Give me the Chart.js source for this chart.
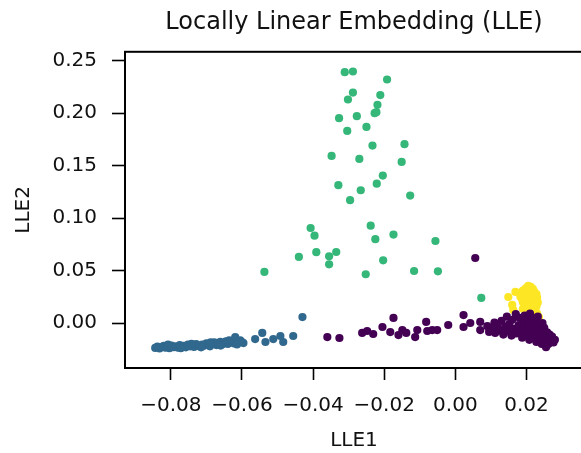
<!DOCTYPE html>
<html>
<head>
<meta charset="utf-8">
<script src="https://cdn.jsdelivr.net/npm/chart.js@4.4.0/dist/chart.umd.min.js"></script>
<style>
  html, body { margin: 0; padding: 0; background: #fff; overflow: hidden; }
</style>
</head>
<body>
<canvas id="chart" width="600" height="453"></canvas>
<script>
// ==========================
// Data
// ==========================
const classLabels = ['0', '1', '2', '3'];
const classColors = ['#440154', '#31688e', '#35b779', '#fde725'];

// class 0 - purple band along the bottom right
const purplePts = [
  [0.0056, 0.0620],
  [-0.0360, -0.0134], [-0.0326, -0.0143], [-0.0262, -0.0095], [-0.0248, -0.0076],
  [-0.0231, -0.0105], [-0.0205, -0.0038], [-0.0174, 0.0048], [-0.0183, -0.0086],
  [-0.0160, -0.0115], [-0.0149, -0.0067], [-0.0138, -0.0095], [-0.0113, -0.0134],
  [-0.0107, -0.0067], [-0.0082, 0.0010], [-0.0079, -0.0076], [-0.0065, -0.0067],
  [-0.0051, -0.0067], [-0.0020, -0.0019], [0.0023, 0.0076], [0.0023, -0.0038],
  [0.0042, 0.0000], [0.0070, 0.0010], [0.0070, -0.0067],
  [0.0090, -0.0030], [0.0095, -0.0085], [0.0102, -0.0050], [0.0110, 0.0005],
  [0.0112, -0.0095], [0.0118, -0.0040], [0.0125, -0.0070], [0.0130, 0.0020],
  [0.0135, -0.0110], [0.0140, -0.0035], [0.0145, 0.0060], [0.0148, -0.0080],
  [0.0152, -0.0010], [0.0158, -0.0120], [0.0160, 0.0030], [0.0165, -0.0055],
  [0.0170, 0.0085], [0.0172, -0.0100], [0.0178, -0.0020], [0.0180, 0.0050],
  [0.0185, -0.0075], [0.0188, -0.0140], [0.0192, 0.0010], [0.0195, 0.0070],
  [0.0198, -0.0045], [0.0202, -0.0110], [0.0205, 0.0030], [0.0208, -0.0160],
  [0.0210, 0.0090], [0.0213, -0.0020], [0.0215, -0.0085], [0.0218, 0.0045],
  [0.0220, -0.0130], [0.0222, -0.0050], [0.0225, 0.0015], [0.0228, -0.0180],
  [0.0230, -0.0100], [0.0232, 0.0060], [0.0235, -0.0030], [0.0238, -0.0150],
  [0.0240, -0.0070], [0.0243, -0.0200], [0.0245, 0.0000], [0.0248, -0.0120],
  [0.0250, -0.0045], [0.0253, -0.0170], [0.0255, -0.0230], [0.0258, -0.0090],
  [0.0260, -0.0140], [0.0262, -0.0200], [0.0265, -0.0110], [0.0268, -0.0165],
  [0.0272, -0.0130], [0.0276, -0.0185], [0.0280, -0.0160]
];

// class 1 - blue band on the left
const bluePts = [
  [-0.0844, -0.0238], [-0.0838, -0.0225], [-0.0832, -0.0242], [-0.0826, -0.0230],
  [-0.0820, -0.0218], [-0.0815, -0.0236], [-0.0810, -0.0225], [-0.0804, -0.0240],
  [-0.0798, -0.0215], [-0.0792, -0.0230], [-0.0786, -0.0222], [-0.0780, -0.0236],
  [-0.0775, -0.0210], [-0.0770, -0.0226], [-0.0764, -0.0218], [-0.0758, -0.0232],
  [-0.0752, -0.0205], [-0.0746, -0.0222], [-0.0740, -0.0212], [-0.0735, -0.0228],
  [-0.0729, -0.0200], [-0.0724, -0.0215], [-0.0718, -0.0225], [-0.0712, -0.0205],
  [-0.0707, -0.0218], [-0.0700, -0.0195], [-0.0695, -0.0212], [-0.0690, -0.0222],
  [-0.0684, -0.0200], [-0.0678, -0.0185], [-0.0672, -0.0210], [-0.0667, -0.0196],
  [-0.0661, -0.0180], [-0.0656, -0.0205], [-0.0650, -0.0190], [-0.0645, -0.0175],
  [-0.0640, -0.0200], [-0.0634, -0.0186], [-0.0628, -0.0170], [-0.0622, -0.0195],
  [-0.0617, -0.0178], [-0.0611, -0.0188], [-0.0605, -0.0165], [-0.0600, -0.0182],
  [-0.0808, -0.0205], [-0.0772, -0.0240], [-0.0742, -0.0198], [-0.0715, -0.0232],
  [-0.0688, -0.0185], [-0.0660, -0.0215], [-0.0636, -0.0165], [-0.0614, -0.0205],
  [-0.0619, -0.0134], [-0.0596, -0.0191], [-0.0563, -0.0153], [-0.0543, -0.0095],
  [-0.0534, -0.0181], [-0.0512, -0.0153], [-0.0492, -0.0124], [-0.0484, -0.0181],
  [-0.0456, -0.0124], [-0.0430, 0.0057]
];

// class 2 - green spread upwards
const greenPts = [
  [-0.0311, 0.2392], [-0.0288, 0.2398], [-0.0192, 0.2322], [-0.0288, 0.2197],
  [-0.0302, 0.2131], [-0.0211, 0.2173], [-0.0219, 0.2080], [-0.0227, 0.2001],
  [-0.0222, 0.2010], [-0.0327, 0.1953], [-0.0277, 0.1972], [-0.0250, 0.1870],
  [-0.0304, 0.1832], [-0.0233, 0.1692], [-0.0143, 0.1705], [-0.0348, 0.1593],
  [-0.0270, 0.1565], [-0.0151, 0.1536], [-0.0204, 0.1406], [-0.0221, 0.1329],
  [-0.0329, 0.1314], [-0.0266, 0.1266], [-0.0296, 0.1171], [-0.0127, 0.1215],
  [-0.0407, 0.0906], [-0.0396, 0.0833], [-0.0238, 0.0928], [-0.0225, 0.0799],
  [-0.0174, 0.0843], [-0.0056, 0.0782], [-0.0440, 0.0630], [-0.0391, 0.0675],
  [-0.0355, 0.0636], [-0.0335, 0.0677], [-0.0355, 0.0560], [-0.0203, 0.0598],
  [-0.0252, 0.0465], [-0.0116, 0.0496], [-0.0049, 0.0493], [-0.0537, 0.0487],
  [0.0073, 0.0239]
];

// class 3 - yellow clump at the right
const yellowPts = [
  [0.0149, 0.0248], [0.0169, 0.0296], [0.0163, 0.0124], [0.0160, 0.0172],
  [0.0205, 0.0355], [0.0212, 0.0345], [0.0198, 0.0330], [0.0218, 0.0325],
  [0.0190, 0.0310], [0.0205, 0.0312], [0.0222, 0.0300], [0.0185, 0.0290],
  [0.0200, 0.0288], [0.0215, 0.0282], [0.0228, 0.0275], [0.0192, 0.0265],
  [0.0208, 0.0262], [0.0220, 0.0255], [0.0183, 0.0250], [0.0198, 0.0242],
  [0.0230, 0.0240], [0.0212, 0.0232], [0.0188, 0.0225], [0.0225, 0.0220],
  [0.0202, 0.0215], [0.0215, 0.0205], [0.0190, 0.0198], [0.0232, 0.0195],
  [0.0205, 0.0188], [0.0220, 0.0180], [0.0195, 0.0172], [0.0210, 0.0165],
  [0.0228, 0.0160], [0.0200, 0.0150], [0.0218, 0.0142], [0.0190, 0.0135],
  [0.0225, 0.0128], [0.0208, 0.0120], [0.0198, 0.0105], [0.0215, 0.0098],
  [0.0230, 0.0090], [0.0205, 0.0080], [0.0220, 0.0065], [0.0235, 0.0055],
  [0.0212, 0.0045], [0.0228, 0.0020]
];

const xRange = [-0.0929, 0.0359];
const yRange = [-0.0429, 0.2586];
const xStep = 0.02;
const yStep = 0.05;

// ==========================
// Helpers
// ==========================
const FONT = 'DejaVu Sans';
const fmtTick = v => {
  const s = Math.abs(v).toFixed(2);
  return (v < -1e-9 ? '\u2212' : '') + s;
};
const toXY = pts => pts.map(p => ({ x: p[0], y: p[1] }));

// frame on top and right (matplotlib spines)
const frame = {
  id: 'frame',
  afterDraw(chart) {
    const { ctx, chartArea: a } = chart;
    ctx.save();
    ctx.strokeStyle = '#000';
    ctx.lineWidth = 2;
    ctx.strokeRect(a.left, a.top, a.right - a.left, a.bottom - a.top);
    ctx.restore();
  }
};

// purple first so it sits on top (chart.js draws dataset 0 last)
const seriesPts = [purplePts, bluePts, greenPts, yellowPts];

const ctx = document.getElementById('chart').getContext('2d');
new Chart(ctx, {
  type: 'scatter',
  data: {
    datasets: seriesPts.map((pts, i) => ({
      label: classLabels[i],
      data: toXY(pts),
      backgroundColor: classColors[i],
      borderWidth: 0,
      pointRadius: 4.1,
      pointHoverRadius: 4.1
    }))
  },
  options: {
    responsive: false,
    animation: false,
    layout: { padding: { left: 0, right: 17, top: 0, bottom: 0 } },
    plugins: {
      legend: { display: false },
      tooltip: { enabled: false },
      title: {
        display: true,
        text: 'Locally Linear Embedding (LLE)',
        fullSize: false,
        color: '#111',
        font: { family: FONT, size: 24, weight: 'normal' },
        padding: { top: 8, bottom: 15 }
      }
    },
    scales: {
      x: {
        type: 'linear',
        min: xRange[0],
        max: xRange[1],
        ticks: {
          stepSize: xStep,
          includeBounds: false,
          callback: fmtTick,
          color: '#111',
          font: { family: FONT, size: 20 },
          padding: 14,
          maxRotation: 0
        },
        grid: { drawOnChartArea: false, tickLength: 12, tickColor: '#000', tickWidth: 1.6 },
        border: { color: '#000', width: 2 },
        title: {
          display: true, text: 'LLE1', color: '#111',
          font: { family: FONT, size: 20 },
          padding: { top: 0, bottom: 0 }
        },
        afterFit: s => { s.height = 85; }
      },
      y: {
        type: 'linear',
        min: yRange[0],
        max: yRange[1],
        ticks: {
          stepSize: yStep,
          includeBounds: false,
          callback: fmtTick,
          color: '#111',
          font: { family: FONT, size: 20 },
          padding: 15
        },
        grid: { drawOnChartArea: false, tickLength: 13, tickColor: '#000', tickWidth: 1.6 },
        border: { color: '#000', width: 2 },
        title: {
          display: true, text: 'LLE2', color: '#111',
          font: { family: FONT, size: 20 },
          padding: { top: 12, bottom: 0 }
        },
        afterFit: s => { s.width = 125; }
      }
    }
  },
  plugins: [frame]
});
</script>
</body>
</html>
